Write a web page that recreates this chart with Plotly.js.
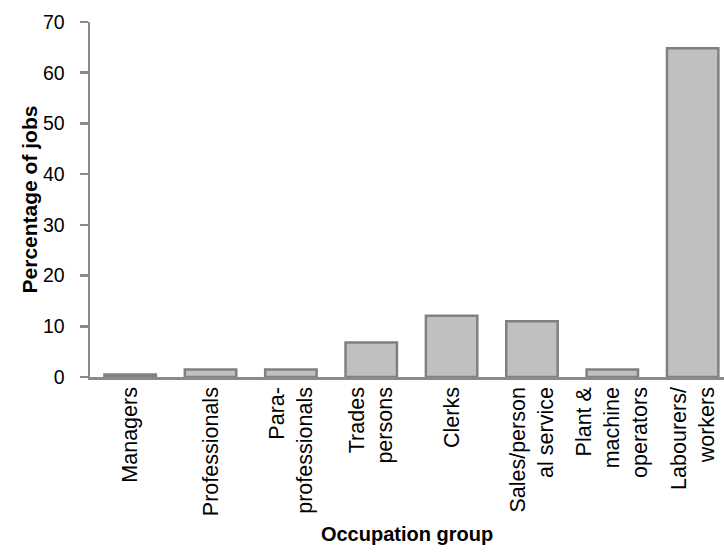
<!DOCTYPE html>
<html>
<head>
<meta charset="utf-8">
<script src="https://cdn.plot.ly/plotly-3.0.1.min.js"></script>
<style>html,body{margin:0;padding:0;background:#fff;}#chart{width:724px;height:556px;}</style>
</head>
<body>
<div id="chart"></div>
<script>
const categories = ["Managers", "Professionals", "Para-<br>professionals", "Trades<br>persons", "Clerks", "Sales/person<br>al service", "Plant &amp;<br>machine<br>operators", "Labourers/<br>workers"];
const percentages = [0.5, 1.5, 1.5, 6.8, 12.1, 11.0, 1.5, 64.8];
const yTicks = [0, 10, 20, 30, 40, 50, 60, 70];

const trace = {
  type: "bar",
  x: categories,
  y: percentages,
  width: 0.64,
  marker: {color: "#c0c0c0", line: {color: "#808080", width: 2.5}},
  hoverinfo: "skip"
};

const layout = {
  width: 724, height: 556,
  margin: {l: 90, r: 0, t: 22, b: 179},
  paper_bgcolor: "#fff", plot_bgcolor: "#fff",
  showlegend: false,
  font: {family: "Liberation Sans, Arial, sans-serif", color: "#000"},
  xaxis: {
    type: "category",
    range: [-0.5, 7.39],
    tickangle: -90,
    ticks: "",
    showline: true, linecolor: "#8a8a8a", linewidth: 2.5,
    showgrid: false, zeroline: false,
    tickfont: {size: 21.5, color: "#000"},
    ticklabelstandoff: -1,
    title: {text: "<b>Occupation group</b>", font: {size: 20, color: "#000"}, standoff: 12},
    fixedrange: true
  },
  yaxis: {
    range: [0, 70],
    tickvals: yTicks,
    ticktext: yTicks.map(String),
    ticks: "outside", ticklen: 8, tickwidth: 2.5, tickcolor: "#8a8a8a",
    showline: true, linecolor: "#8a8a8a", linewidth: 2.5,
    showgrid: false, zeroline: false,
    tickfont: {size: 19.5, color: "#000"},
    ticklabelstandoff: 11,
    title: {text: "<b>Percentage of jobs</b>", font: {size: 21, color: "#000"}, standoff: 0},
    fixedrange: true
  }
};

Plotly.newPlot("chart", [trace], layout, {displayModeBar: false, staticPlot: true});
</script>
</body>
</html>
